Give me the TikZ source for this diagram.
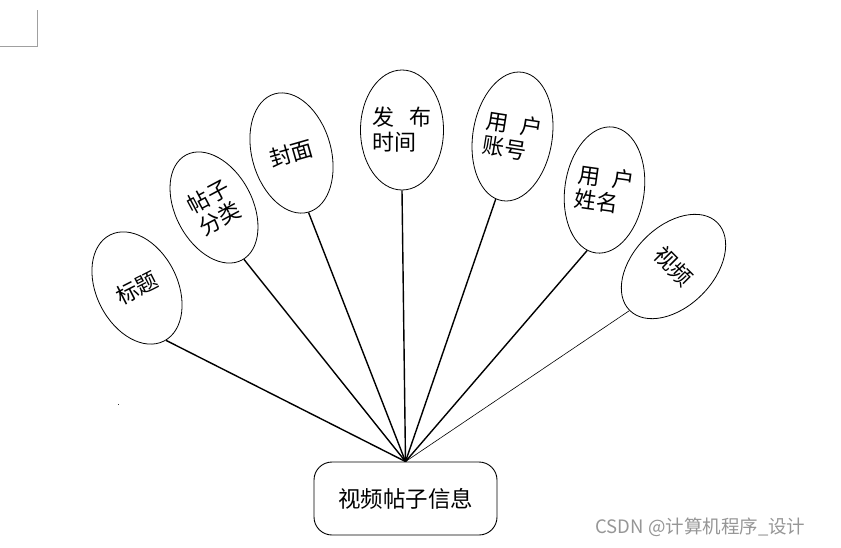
\documentclass[tikz,border=0pt]{standalone}
\usepackage{fontspec}
\setmainfont{Noto Sans CJK SC}
\usetikzlibrary{shapes.geometric}
\definecolor{wmgray}{RGB}{150,150,150}
\definecolor{markgray}{RGB}{160,160,160}
\begin{document}
\begin{tikzpicture}[x=1pt,y=-1pt,
  attr/.style={ellipse,draw,line width=0.8pt,inner sep=0pt,align=left,
    font=\fontsize{22}{25}\selectfont},
  conn/.style={line width=1.4pt},
  thinconn/.style={line width=0.6pt},
  entity/.style={draw,rounded corners=18pt,line width=0.9pt,inner sep=0pt,
    minimum width=183pt,minimum height=73pt,font=\fontsize{22.5}{25}\selectfont},
  wmtext/.style={text=wmgray,inner sep=0pt,font=\fontsize{18.5}{20}\selectfont}
]
\useasboundingbox (0,0) rectangle (841,547);
% corner mark
\draw[markgray,line width=0.8pt] (0,46) -- (37,46) -- (37,10);
\fill[black!80] (117.7,403.7) rectangle (119.3,405.3);
% attributes
\node[attr,rotate=27,minimum width=81pt,minimum height=119pt] (t1) at (137,288) {标题};
\node[attr,rotate=28,minimum width=77pt,minimum height=119pt] (t2) at (214,207.5) {帖子\\分类};
\node[attr,rotate=16,minimum width=79pt,minimum height=123pt] (t3) at (291.5,153) {封面};
\node[attr,minimum width=83pt,minimum height=120pt] (t4) at (402,130) {发\hspace{0.65em}布\\时间};
\node[attr,rotate=-9,minimum width=77pt,minimum height=130pt] (t5) at (512.5,136.5) {用\hspace{0.55em}户\\账号};
\node[attr,rotate=-8,minimum width=76pt,minimum height=127pt] (t6) at (604.5,190) {用\hspace{0.55em}户\\姓名};
\node[attr,rotate=-45,minimum width=80pt,minimum height=124pt] (t7) at (673.5,266.5) {视频};
% entity
\node[entity] (box) at (405.5,498.5) {视频帖子信息};
% connectors
\draw[conn] (box.north) -- (t1.-88);
\draw[conn] (box.north) -- (t2.-88);
\draw[conn] (box.north) -- (t3.south);
\draw[conn] (box.north) -- (t4.south);
\draw[conn] (box.north) -- (t5.-96);
\draw[conn] (box.north) -- (t6.-98);
\draw[thinconn] (box.north) -- (t7.south);
% watermark
\node[wmtext] (wm) at (700.5,527) {CSDN @计算机程序\_设计};
\end{tikzpicture}
\end{document}
